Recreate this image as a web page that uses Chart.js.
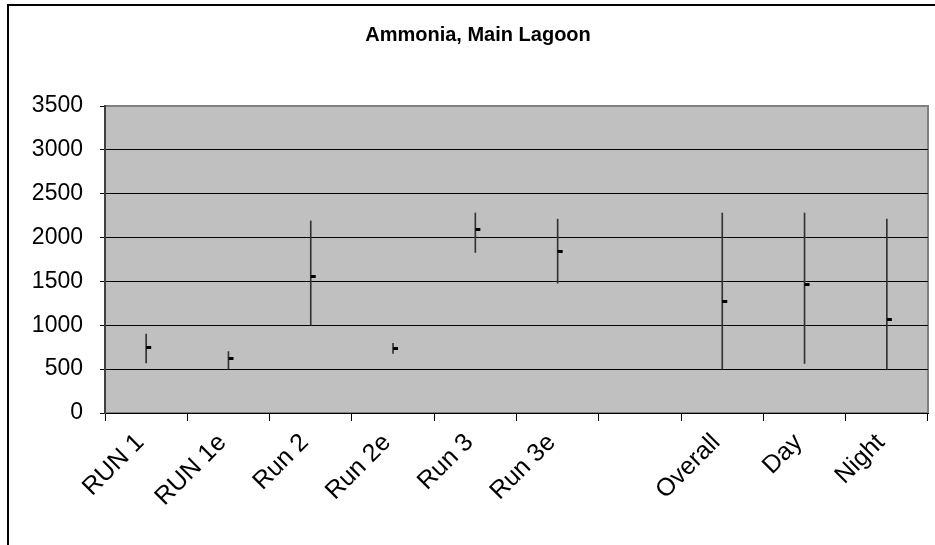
<!DOCTYPE html>
<html>
<head>
<meta charset="utf-8">
<script src="https://cdn.jsdelivr.net/npm/chart.js@4.4.1/dist/chart.umd.min.js"></script>
<style>
  body { margin: 0; background: #fff; }
  #wrap { position: relative; width: 935px; height: 545px; overflow: hidden; }
  #frame { position: absolute; left: 7px; top: 4px; width: 960px; height: 600px;
           border-left: 2px solid #000; border-top: 2px solid #000; pointer-events: none; }
</style>
</head>
<body>
<div id="wrap">
  <canvas id="mychart" width="935" height="545"></canvas>
  <div id="frame"></div>
</div>
<script>
// categories and values
const categorias = ['RUN 1', 'RUN 1e', 'Run 2', 'Run 2e', 'Run 3', 'Run 3e', '', 'Overall', 'Day', 'Night'];
const altos   = [900, 700, 2190, 795, 2280, 2210, null, 2280, 2280, 2210];
const bajos   = [570, 500, 1000, 680, 1830, 1480, null, 500, 565, 500];
const cierres = [750, 625, 1560, 740, 2090, 1845, null, 1270, 1465, 1070];
const ticksY  = [0, 500, 1000, 1500, 2000, 2500, 3000, 3500];

Chart.defaults.font.family = "'Liberation Sans', Arial, sans-serif";
Chart.defaults.color = '#000';

// little dash to the right of the line for the close value
const marca = document.createElement('canvas');
marca.width = 12;
marca.height = 3;
let mctx = marca.getContext('2d');
mctx.fillStyle = '#000';
mctx.fillRect(6, 0, 5, 3);

const fondo = {
  id: 'fondo',
  beforeDraw(chart) {
    const a = chart.chartArea;
    const ctx = chart.ctx;
    ctx.save();
    ctx.fillStyle = '#c0c0c0';
    ctx.fillRect(a.left, a.top, a.right - a.left, a.bottom - a.top);
    ctx.strokeStyle = '#808080';
    ctx.lineWidth = 2;
    ctx.strokeRect(a.left, a.top, a.right - a.left, a.bottom - a.top);
    ctx.restore();
  }
};

let rangos = bajos.map((b, i) => (b == null ? null : [b, altos[i]]));

new Chart(document.getElementById('mychart').getContext('2d'), {
  data: {
    labels: categorias,
    datasets: [
      {
        type: 'bar',
        data: rangos,
        backgroundColor: '#333',
        barThickness: 1,
        order: 2
      },
      {
        type: 'line',
        data: cierres,
        showLine: false,
        pointStyle: marca,
        pointRadius: 6,
        order: 1
      }
    ]
  },
  options: {
    responsive: false,
    animation: false,
    events: [],
    layout: { padding: { top: 25, right: 7, bottom: 0, left: 28 } },
    plugins: {
      legend: { display: false },
      tooltip: { enabled: false },
      title: {
        display: true,
        text: 'Ammonia, Main Lagoon',
        color: '#000',
        font: { size: 20, weight: 'bold', lineHeight: 1 },
        padding: { top: 0, bottom: 61 }
      }
    },
    scales: {
      x: {
        offset: true,
        afterFit: (s) => { s.height = 132; },
        grid: {
          offset: true,
          drawOnChartArea: false,
          drawTicks: true,
          tickLength: 8,
          tickColor: '#000'
        },
        border: { color: '#000', width: 1 },
        ticks: {
          maxRotation: 45,
          minRotation: 45,
          autoSkip: false,
          padding: 7,
          labelOffset: -6,
          font: { size: 25 }
        }
      },
      y: {
        min: 0,
        max: 3500,
        afterFit: (s) => { s.width = 77; },
        afterBuildTicks: (s) => { s.ticks = ticksY.map((v) => ({ value: v })); },
        grid: {
          color: (c) => (c.tick && c.tick.value === 3500 ? '#808080' : '#000'),
          lineWidth: 1,
          tickLength: 5,
          tickColor: '#000'
        },
        border: { color: '#404040', width: 2 },
        ticks: {
          padding: 17,
          font: { size: 23 },
          callback: (v) => String(v)
        }
      }
    }
  },
  plugins: [fondo]
});
</script>
</body>
</html>
